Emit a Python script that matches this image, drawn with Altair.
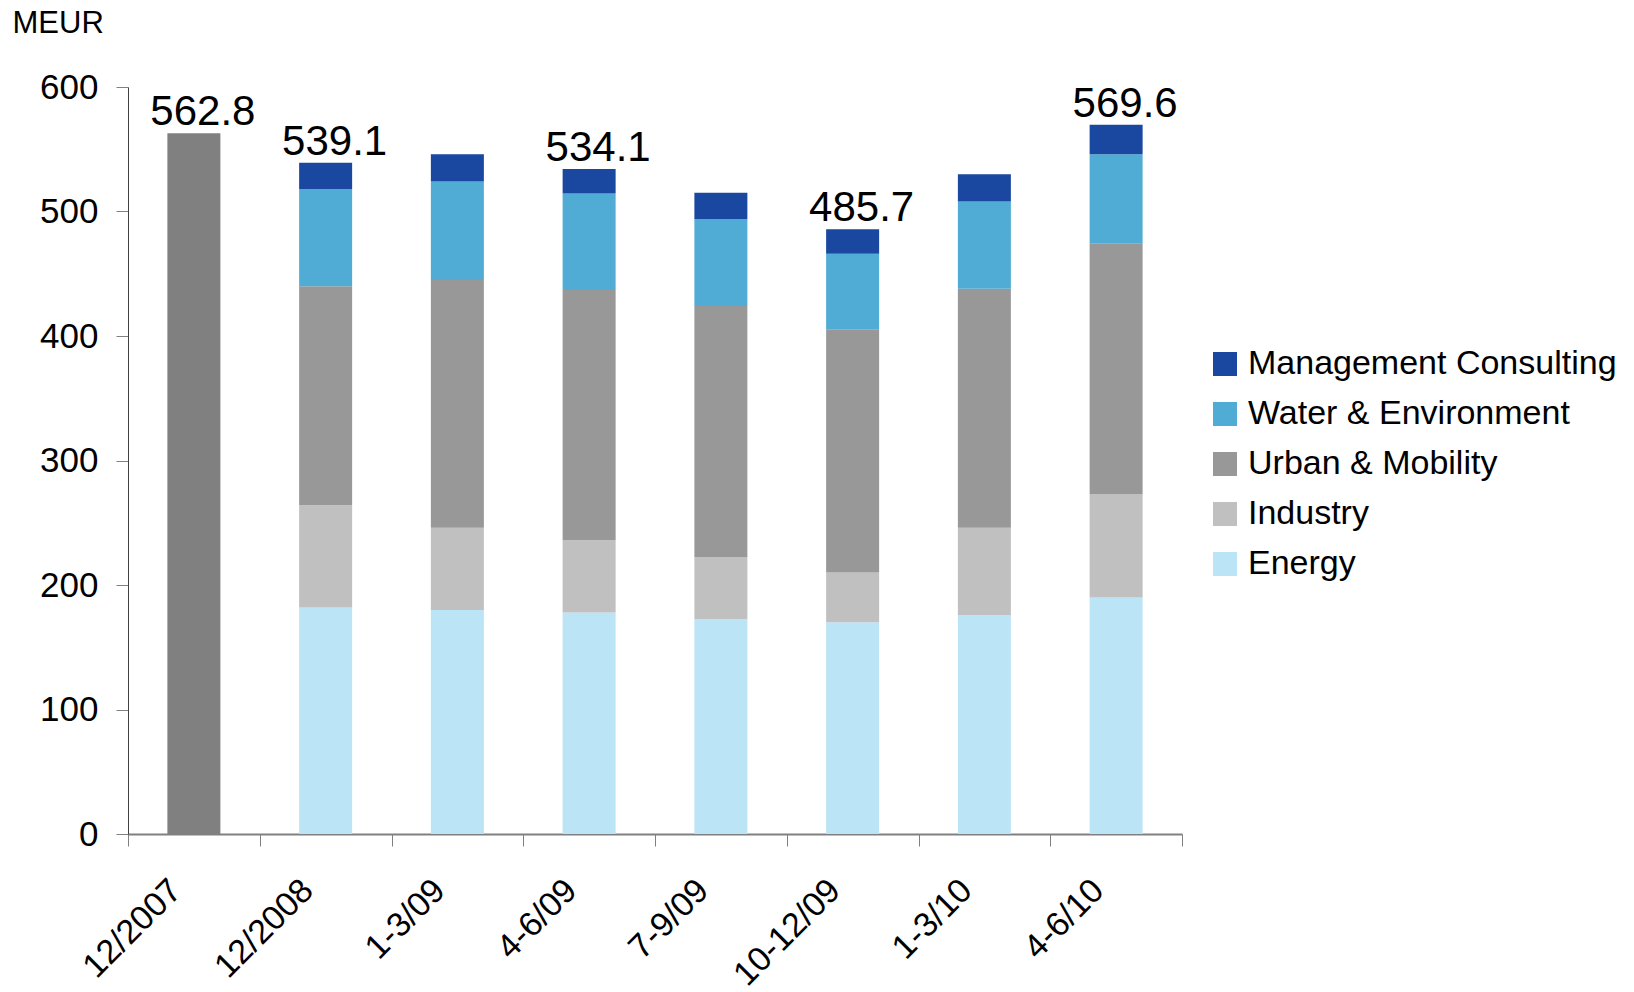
import altair as alt
import pandas as pd

# Reporting periods along the x axis
periods = ["12/2007", "12/2008", "1-3/09", "4-6/09", "7-9/09", "10-12/09", "1-3/10", "4-6/10"]

# 12/2007 is reported only as a single total
total_2007 = 562.8

# Segment values (MEUR) for 12/2008 ... 4-6/10
energy = [182.0, 180.0, 178.0, 172.5, 170.0, 176.0, 190.0]
industry = [82.0, 66.0, 58.0, 50.0, 40.0, 70.0, 83.0]
urban_mobility = [176.0, 199.0, 201.0, 201.5, 195.0, 192.0, 201.0]
water_environment = [78.0, 79.0, 77.5, 70.0, 61.0, 70.0, 72.0]
management_consulting = [21.1, 22.0, 19.6, 21.0, 19.7, 22.0, 23.6]

# Bottom-to-top stacking order
segments = ["Energy", "Industry", "Urban & Mobility", "Water & Environment", "Management Consulting"]
segment_values = [energy, industry, urban_mobility, water_environment, management_consulting]

# Periods whose totals are written above the bar
labeled_periods = ["12/2007", "12/2008", "4-6/09", "10-12/09", "4-6/10"]

legend_order = ["Management Consulting", "Water & Environment", "Urban & Mobility", "Industry", "Energy"]
colors = {
    "Management Consulting": "#1A479F",
    "Water & Environment": "#50ACD4",
    "Urban & Mobility": "#989898",
    "Industry": "#C0C0C0",
    "Energy": "#BCE4F7",
    "Total": "#808080",
}

rows = [{"period": periods[0], "segment": "Total", "value": total_2007, "stack": 0}]
for i, period in enumerate(periods[1:]):
    for k, (name, vals) in enumerate(zip(segments, segment_values)):
        rows.append({"period": period, "segment": name, "value": vals[i], "stack": k})
df = pd.DataFrame(rows)

totals = df.groupby("period", sort=False)["value"].sum().reset_index()
totals = totals[totals["period"].isin(labeled_periods)].copy()
totals["label"] = totals["value"].map(lambda v: f"{v:.1f}")

FONT = "Liberation Sans"

x_enc = alt.X(
    "period:N",
    sort=periods,
    scale=alt.Scale(paddingInner=0, paddingOuter=0),
    axis=alt.Axis(
        title=None,
        labelAngle=315,
        labelAlign="right",
        labelBaseline="middle",
        labelFontSize=34,
        labelColor="#000000",
        labelPadding=39,
        labelOffset=-18,
        tickBand="extent",
        tickSize=12,
        tickColor="#808080",
        domainColor="#808080",
        domainWidth=2,
    ),
)

y_scale = alt.Scale(domain=[0, 600], nice=False)

bars = alt.Chart(df).mark_bar(size=53).encode(
    x=x_enc,
    y=alt.Y(
        "value:Q",
        stack="zero",
        scale=y_scale,
        axis=alt.Axis(
            values=[0, 100, 200, 300, 400, 500, 600],
            grid=False,
            title="MEUR",
            titleAngle=0,
            titleX=-116,
            titleY=-64,
            titleAlign="left",
            titleBaseline="middle",
            titleFontSize=31,
            titleFontWeight="normal",
            titleColor="#000000",
            labelFontSize=35,
            labelColor="#000000",
            labelPadding=18,
            tickSize=12,
            tickColor="#808080",
            domainColor="#404040",
            domainWidth=1,
        ),
    ),
    color=alt.Color(
        "segment:N",
        scale=alt.Scale(domain=list(colors.keys()), range=list(colors.values())),
        legend=alt.Legend(
            values=legend_order,
            title=None,
            orient="none",
            legendX=1080,
            legendY=260,
            symbolType="square",
            symbolSize=576,
            symbolStrokeWidth=0,
            symbolOpacity=1,
            labelFontSize=34,
            labelColor="#000000",
            labelOffset=6,
            labelLimit=0,
            rowPadding=16,
            padding=0,
        ),
    ),
    order=alt.Order("stack:Q"),
)

labels = alt.Chart(totals).mark_text(
    fontSize=42, baseline="alphabetic", dy=-8, dx=9, color="#000000"
).encode(
    x=alt.X("period:N", sort=periods),
    y=alt.Y("value:Q", scale=y_scale),
    text="label:N",
)

chart = (
    alt.layer(bars, labels)
    .properties(
        width=1054,
        height=747,
        autosize=alt.AutoSizeParams(type="none"),
        padding={"left": 128, "top": 87, "right": 452, "bottom": 158},
    )
    .configure(font=FONT)
    .configure_view(stroke=None)
)

chart.save("out.html", embed_options={"renderer": "svg", "actions": False})
